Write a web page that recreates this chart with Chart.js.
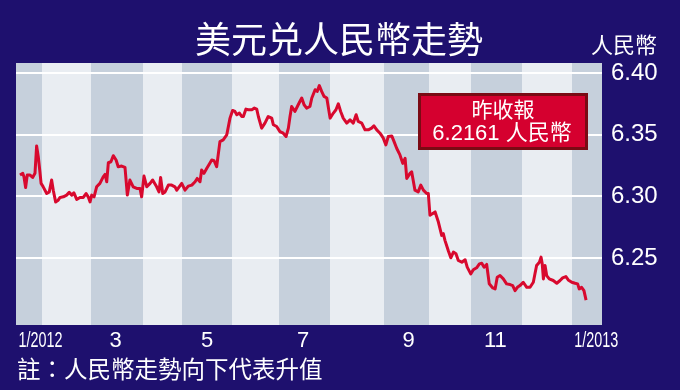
<!DOCTYPE html>
<html lang="zh-Hant">
<head>
<meta charset="UTF-8">
<title>美元兑人民幣走勢</title>
<script src="https://cdn.jsdelivr.net/npm/chart.js"></script>
<style>
    body { margin: 0; background-color: #1e106e; }
    #wrap { width: 680px; height: 390px; }
</style>
</head>
<body>
<div id="wrap"><canvas id="chart" width="680" height="390"></canvas></div>
<script>
    // trading-day index since start of chart (Jan 2012) and the USD/CNY rate
    const tradingDay = [
        1.7,2.9,3.4,4.1,4.8,6.0,7.1,8.1,8.8,9.5,
        10.2,10.7,11.6,13.1,14.2,15.2,15.9,16.9,18.0,18.8,
        20.2,21.6,22.7,23.8,24.7,25.9,27.3,28.7,29.9,30.8,
        31.6,32.3,33.3,34.4,35.8,37.2,38.0,38.7,39.4,40.5,
        41.5,42.7,43.6,45.1,46.5,47.5,48.6,50.0,51.5,52.9,
        53.6,54.6,55.8,57.2,58.3,60.0,61.0,61.7,62.6,63.6,
        65.0,66.4,67.8,68.6,70.7,72.1,73.5,75.0,76.4,77.3,
        78.5,79.2,80.2,81.4,82.5,83.5,84.5,85.6,87.0,88.4,
        89.9,91.3,92.4,93.4,94.2,95.3,96.3,97.0,98.1,99.1,
        100.6,101.7,102.7,103.4,104.8,106.2,107.6,109.1,109.8,111.2,
        112.6,114.0,115.2,116.2,116.9,117.6,119.0,120.4,121.9,122.9,
        124.0,125.4,126.2,127.6,128.5,129.4,130.4,131.4,132.6,134.0,
        135.4,136.5,137.5,138.5,139.6,141.1,142.5,143.9,145.1,146.0,
        147.5,148.9,150.3,151.7,152.7,153.9,155.3,156.7,157.8,158.8,
        160.3,161.3,162.4,163.8,165.0,166.0,166.7,168.1,168.8,170.2,
        171.6,172.7,173.8,175.2,175.9,176.6,177.8,178.8,180.2,181.6,
        182.3,183.0,184.4,185.5,186.6,187.7,188.7,190.2,191.6,192.5,
        194.0,195.1,196.5,197.7,198.7,199.7,200.8,201.9,203.4,204.4,
        205.3,206.5,207.9,209.3,210.8,211.9,212.9,213.9,215.0,216.4,
        217.9,219.3,220.7,221.4,222.1,223.3,224.0,224.5,225.0,225.7,
        226.4,227.5,229.2,230.7,232.1,233.2,234.6,235.6,237.1,238.5,
        239.6,240.3,241.3,242.3,243.2
    ];
    const usdCny = [
        6.3173,6.3187,6.3159,6.3073,6.3173,6.3173,6.3154,6.3187,6.3409,6.3322,
        6.3200,6.3106,6.3078,6.3024,6.3037,6.3133,6.3051,6.2956,6.2970,6.2992,
        6.2997,6.3011,6.3033,6.3011,6.3029,6.2976,6.2992,6.2992,6.3024,6.2997,
        6.2956,6.3011,6.2997,6.3078,6.3106,6.3159,6.3179,6.3119,6.3273,6.3281,
        6.3330,6.3295,6.3241,6.3246,6.3236,6.3011,6.3133,6.3078,6.3065,6.3065,
        6.2997,6.3165,6.3078,6.3106,6.3133,6.3078,6.3037,6.3154,6.3024,6.3037,
        6.3092,6.3092,6.3078,6.3051,6.3106,6.3051,6.3084,6.3092,6.3119,6.3146,
        6.3119,6.3214,6.3187,6.3228,6.3263,6.3295,6.3289,6.3241,6.3444,6.3458,
        6.3498,6.3634,6.3696,6.3688,6.3661,6.3675,6.3647,6.3647,6.3707,6.3702,
        6.3702,6.3715,6.3707,6.3647,6.3553,6.3594,6.3647,6.3634,6.3580,6.3566,
        6.3525,6.3512,6.3485,6.3553,6.3647,6.3728,6.3688,6.3742,6.3797,6.3742,
        6.3715,6.3728,6.3797,6.3864,6.3850,6.3897,6.3850,6.3810,6.3797,6.3634,
        6.3675,6.3702,6.3750,6.3688,6.3634,6.3594,6.3620,6.3594,6.3661,6.3607,
        6.3594,6.3539,6.3539,6.3553,6.3572,6.3539,6.3512,6.3472,6.3417,6.3485,
        6.3490,6.3444,6.3390,6.3336,6.3268,6.3309,6.3146,6.3187,6.3200,6.3051,
        6.3037,6.3092,6.3051,6.3024,6.3024,6.2848,6.2862,6.2875,6.2793,6.2685,
        6.2699,6.2645,6.2563,6.2504,6.2550,6.2537,6.2482,6.2468,6.2488,6.2428,
        6.2374,6.2407,6.2423,6.2455,6.2460,6.2428,6.2450,6.2293,6.2260,6.2252,
        6.2346,6.2360,6.2333,6.2293,6.2287,6.2279,6.2238,6.2265,6.2279,6.2306,
        6.2265,6.2265,6.2306,6.2374,6.2441,6.2468,6.2509,6.2455,6.2333,6.2441,
        6.2360,6.2333,6.2320,6.2298,6.2320,6.2341,6.2352,6.2325,6.2306,6.2298,
        6.2293,6.2252,6.2265,6.2238,6.2161
    ];
    // trading days per month, Jan 2012 (partial) .. Jan 2013 (partial)
    const monthTradingDays = [11, 21, 22, 17, 21, 20, 22, 23, 19, 18, 22, 21, 13];
    const monthLabels = ['1/2012', '', '3', '', '5', '', '7', '', '9', '', '11', '', '1/2013'];
    const yTicks = [6.25, 6.30, 6.35, 6.40];
    const yMin = 6.196, yMax = 6.408;
    const lastClose = '6.2161';

    const NAVY = '#1e106e';
    const CJK = "'Noto Sans CJK TC', 'Noto Sans CJK SC', sans-serif";
    const LATIN = "'Liberation Sans', Arial, 'Noto Sans CJK TC', sans-serif";

    const decorations = {
        id: 'decorations',
        beforeDraw(chart) {
            const { ctx, chartArea: a, scales: { x } } = chart;
            ctx.save();
            ctx.fillStyle = NAVY;
            ctx.fillRect(0, 0, chart.width, chart.height);
            // light base, then odd months as darker stripes
            ctx.fillStyle = '#e9edf2';
            ctx.fillRect(a.left, a.top, a.right - a.left, a.bottom - a.top);
            ctx.fillStyle = '#c6d0dc';
            let start = 0;
            monthTradingDays.forEach((n, i) => {
                if (i % 2 === 0) {
                    const x0 = Math.round(x.getPixelForValue(start));
                    const x1 = Math.round(x.getPixelForValue(start + n));
                    ctx.fillRect(x0, a.top, x1 - x0, a.bottom - a.top);
                }
                start += n;
            });
            ctx.restore();
        },
        afterDraw(chart) {
            const { ctx, chartArea: a, scales: { x } } = chart;
            ctx.save();
            ctx.fillStyle = '#ffffff';
            ctx.textBaseline = 'middle';

            // title and unit
            ctx.textAlign = 'center';
            ctx.font = '36px ' + CJK;
            ctx.fillText('美元兑人民幣走勢', 339, 39);
            ctx.font = '22px ' + CJK;
            ctx.fillText('人民幣', 624, 45);

            // month labels
            ctx.font = '22px ' + LATIN;
            let start = 0;
            monthTradingDays.forEach((n, i) => {
                if (monthLabels[i]) {
                    ctx.fillText(monthLabels[i], x.getPixelForValue(start + 10.5), a.bottom + 16, 44);
                }
                start += n;
            });

            // footnote
            ctx.textAlign = 'left';
            ctx.font = '23.5px ' + CJK;
            ctx.fillText('註：人民幣走勢向下代表升值', 17, 369);

            // last close box
            const bx = a.right - 184, by = a.top + 30, bw = 170, bh = 57;
            ctx.fillStyle = '#7a0a14';
            ctx.fillRect(bx, by, bw, bh);
            ctx.fillStyle = '#d5002f';
            ctx.fillRect(bx + 3, by + 3, bw - 6, bh - 6);
            ctx.fillStyle = '#ffffff';
            ctx.textAlign = 'center';
            ctx.font = '21px ' + CJK;
            ctx.fillText('昨收報', bx + bw / 2, by + 16);
            ctx.font = '22px ' + LATIN;
            ctx.fillText(lastClose + ' 人民幣', bx + bw / 2 - 1, by + 41);
            ctx.restore();
        }
    };

    new Chart(document.getElementById('chart'), {
        type: 'line',
        data: {
            datasets: [{
                data: tradingDay.map((d, i) => ({ x: d, y: usdCny[i] })),
                borderColor: '#d8092e',
                borderWidth: 3,
                pointRadius: 0,
                tension: 0,
                borderJoinStyle: 'round',
                fill: false
            }]
        },
        options: {
            responsive: false,
            animation: false,
            events: [],
            layout: { padding: { left: 16, top: 63, right: 0, bottom: 0 } },
            plugins: { legend: { display: false }, tooltip: { enabled: false }, title: { display: false } },
            scales: {
                x: {
                    type: 'linear',
                    min: 0,
                    max: monthTradingDays.reduce((s, n) => s + n, 0),
                    grid: { display: false },
                    border: { display: false },
                    ticks: { display: false },
                    afterFit: s => { s.height = 65; }
                },
                y: {
                    position: 'right',
                    min: yMin,
                    max: yMax,
                    afterBuildTicks: s => { s.ticks = yTicks.map(v => ({ value: v })); },
                    afterFit: s => { s.width = 78; },
                    grid: { color: '#ffffff', lineWidth: 2, drawTicks: false },
                    border: { display: false },
                    ticks: {
                        color: '#ffffff',
                        padding: 9,
                        font: { family: "'Liberation Sans', Arial, sans-serif", size: 24 },
                        callback: v => v.toFixed(2)
                    }
                }
            }
        },
        plugins: [decorations]
    });
</script>
</body>
</html>
